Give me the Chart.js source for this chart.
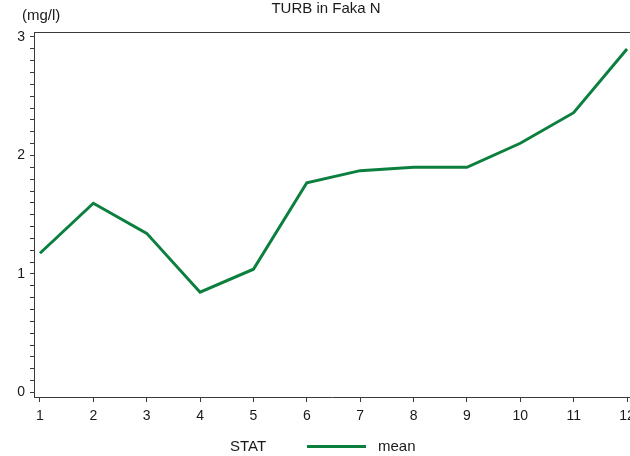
<!DOCTYPE html>
<html>
<head>
<meta charset="utf-8">
<script src="https://cdn.jsdelivr.net/npm/chart.js@4.4.0/dist/chart.umd.min.js"></script>
<style>
  html, body { margin: 0; padding: 0; background: #fff; }
  #wrap { width: 630px; height: 456px; }
</style>
</head>
<body>
<div id="wrap"><canvas id="turbChart" width="630" height="456"></canvas></div>
<script>
// values
const months = [1, 2, 3, 4, 5, 6, 7, 8, 9, 10, 11, 12];
const meanValues = [1.175, 1.597, 1.343, 0.846, 1.04, 1.77, 1.872, 1.90, 1.90, 2.103, 2.361, 2.899];
const yMajorTicks = [0, 1, 2, 3];

const chartTitle = 'TURB in Faka N';
const unitLabel = '(mg/l)';
const legendTitle = 'STAT';
const seriesName = 'mean';

const lineColor = '#0b7f3e';
const axisColor = '#3a3a3a';
const textColor = '#1a1a1a';
const fontFamily = 'Arial, "Liberation Sans", Helvetica, sans-serif';

// title, unit label, legend and top frame line
const decorations = {
    id: 'decorations',
    afterDraw(chart) {
        const ctx = chart.ctx;
        const area = chart.chartArea;
        ctx.save();
        ctx.strokeStyle = axisColor;
        ctx.lineWidth = 1;
        ctx.beginPath();
        ctx.moveTo(area.left, area.top + 0.5);
        ctx.lineTo(chart.width, area.top + 0.5);
        ctx.stroke();

        ctx.fillStyle = textColor;
        ctx.font = '15px ' + fontFamily;
        ctx.textBaseline = 'middle';
        ctx.textAlign = 'center';
        ctx.fillText(chartTitle, 326, 9);
        ctx.textAlign = 'left';
        ctx.fillText(unitLabel, 22, 16);

        ctx.fillText(legendTitle, 230, 447);
        ctx.strokeStyle = lineColor;
        ctx.lineWidth = 3;
        ctx.beginPath();
        ctx.moveTo(307, 446.5);
        ctx.lineTo(366, 446.5);
        ctx.stroke();
        ctx.fillText(seriesName, 378, 447);
        ctx.restore();
    }
};

new Chart(document.getElementById('turbChart'), {
    type: 'line',
    data: {
        datasets: [{
            label: seriesName,
            data: months.map((m, i) => ({ x: m, y: meanValues[i] })),
            borderColor: lineColor,
            borderWidth: 3,
            pointRadius: 0,
            tension: 0,
            fill: false
        }]
    },
    options: {
        responsive: false,
        animation: false,
        layout: { padding: { top: 32, right: 0, bottom: 31, left: 0 } },
        plugins: {
            legend: { display: false },
            title: { display: false },
            tooltip: { enabled: false }
        },
        scales: {
            x: {
                type: 'linear',
                min: 0.888,
                max: 12.056,
                // let the last label run off the edge like the original
                afterFit: s => { s.height = 28; s.paddingRight = 0; s.paddingLeft = 0; },
                border: { color: axisColor, width: 1 },
                grid: { drawOnChartArea: false, tickLength: 5, tickColor: axisColor },
                ticks: {
                    stepSize: 1,
                    includeBounds: false,
                    autoSkip: false,
                    maxRotation: 0,
                    padding: 6,
                    color: textColor,
                    font: { family: fontFamily, size: 14 }
                }
            },
            y: {
                min: -0.038,
                max: 3.042,
                afterFit: s => { s.width = 34; s.paddingTop = 0; s.paddingBottom = 0; },
                border: { color: axisColor, width: 1 },
                grid: { drawOnChartArea: false, tickLength: 4, tickColor: axisColor },
                ticks: {
                    stepSize: 0.1,
                    includeBounds: false,
                    autoSkip: false,
                    padding: 5,
                    color: textColor,
                    font: { family: fontFamily, size: 14 },
                    callback: v => {
                        const r = Math.round(v);
                        return (Math.abs(v - r) < 1e-6 && yMajorTicks.includes(r)) ? String(r) : '';
                    }
                }
            }
        }
    },
    plugins: [decorations]
});
</script>
</body>
</html>
